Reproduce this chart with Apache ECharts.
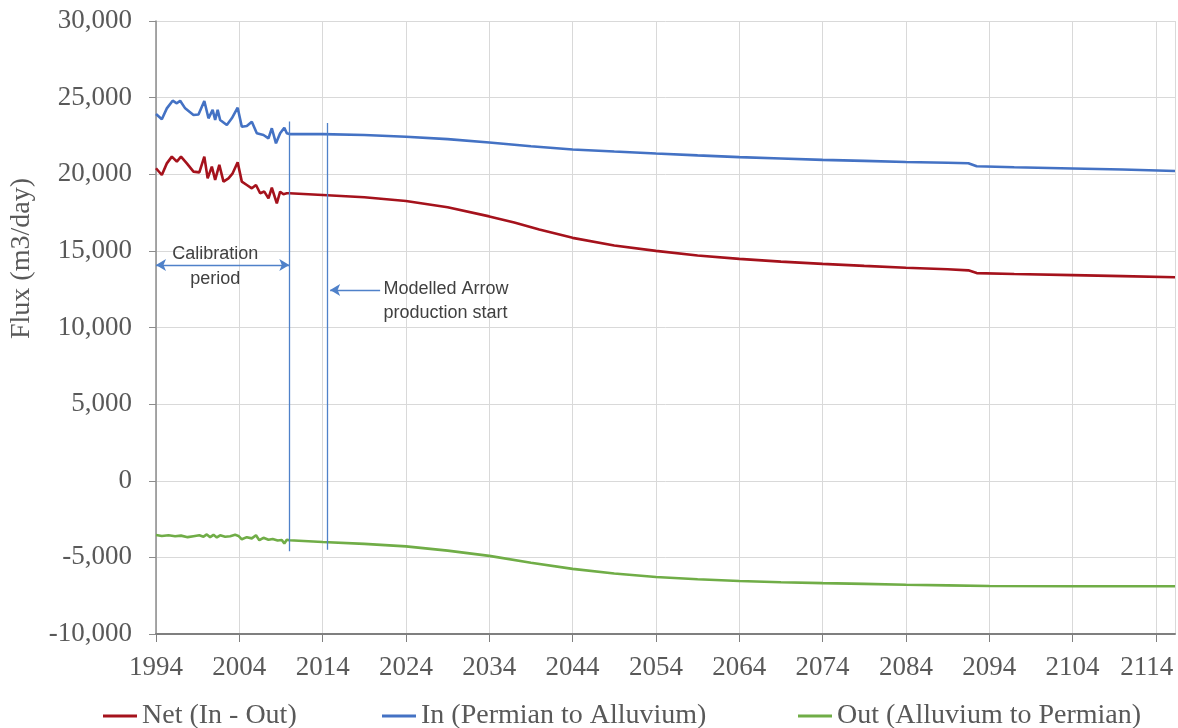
<!DOCTYPE html>
<html>
<head>
<meta charset="utf-8">
<script src="https://cdn.jsdelivr.net/npm/echarts@6/dist/echarts.min.js"></script>
<style>html,body{margin:0;padding:0;background:#fff}#c{width:1178px;height:728px}</style>
</head>
<body>
<div id="c"></div>
<script>
// ---- data ----
const netYears = [1994.0,1994.7,1995.3,1995.9,1996.5,1997.0,1997.7,1998.5,1999.2,1999.8,2000.2,2000.7,2001.1,2001.6,2002.1,2002.7,2003.2,2003.8,2004.3,2004.9,2005.5,2006.0,2006.5,2007.0,2007.5,2007.9,2008.5,2008.9,2009.3,2009.7,2010.0,2014,2019,2024,2029,2034,2037,2040,2044,2049,2054,2059,2064,2069,2074,2079,2084,2089,2091.5,2092.5,2097,2104,2110,2116.3];
const netValues = [20390,19950,20710,21150,20820,21150,20710,20170,20120,21150,19730,20500,19630,20610,19520,19730,20060,20780,19520,19300,19080,19300,18760,18870,18430,19120,18100,18860,18700,18760,18760,18650,18500,18250,17850,17250,16850,16400,15850,15350,15000,14700,14480,14300,14150,14020,13900,13800,13730,13550,13490,13420,13350,13280];

const inYears = [1994.0,1994.7,1995.3,1996.0,1996.5,1996.9,1997.5,1998.5,1999.1,1999.8,2000.3,2000.8,2001.1,2001.4,2001.7,2002.5,2003.1,2003.8,2004.3,2004.9,2005.5,2006.1,2006.9,2007.5,2007.9,2008.4,2008.9,2009.4,2009.7,2010.0,2014,2019,2024,2029,2034,2039,2044,2049,2054,2059,2064,2069,2074,2079,2084,2089,2091.5,2092.5,2097,2104,2110,2116.3];
const inValues = [23930,23590,24300,24800,24630,24800,24300,23870,23900,24780,23650,24200,23540,24200,23540,23210,23650,24340,23100,23150,23430,22670,22560,22340,23000,22020,22670,23040,22670,22620,22620,22560,22450,22290,22070,21830,21620,21480,21350,21230,21120,21030,20940,20870,20800,20750,20720,20520,20460,20380,20310,20210];

const outYears = [1994.0,1994.7,1995.5,1996.3,1997.0,1997.8,1998.5,1999.2,1999.7,2000.1,2000.5,2000.9,2001.3,2001.7,2002.3,2002.9,2003.5,2003.9,2004.3,2004.9,2005.5,2006.0,2006.4,2006.9,2007.5,2008.0,2008.6,2009.1,2009.4,2009.7,2010.0,2014,2019,2024,2029,2034,2039,2044,2049,2054,2059,2064,2069,2074,2079,2084,2089,2094,2104,2116.3];
const outValues = [-3540,-3600,-3560,-3620,-3580,-3680,-3620,-3560,-3650,-3500,-3680,-3530,-3700,-3560,-3650,-3620,-3530,-3600,-3820,-3680,-3760,-3560,-3880,-3720,-3850,-3800,-3900,-3870,-4100,-3850,-3880,-4000,-4120,-4280,-4560,-4900,-5350,-5750,-6050,-6280,-6430,-6540,-6620,-6680,-6730,-6790,-6830,-6870,-6880,-6880];

const seriesNames = ['Net (In - Out)', 'In (Permian to Alluvium)', 'Out (Alluvium to Permian)'];
const xTickStart = 1994, xTickStep = 10, xEnd = 2116.3;
const yMin = -10000, yMax = 30000, yStep = 5000;

// annotation anchors (data coordinates)
const calibrationEnd = 2010.0, productionStart = 2014.5;
const annoLineTop = 23450, annoLineBottom = -4600;
const calibArrowY = 14080, prodArrowY = 12450, prodArrowFrom = 2020.9;
const calibTextPos = [2001.1, 13950], prodTextPos = [2021.3, 11700];

// ---- chart ----
const zip = (xs, ys) => xs.map((x, i) => [x, ys[i]]);
const serif = '"Liberation Serif", "DejaVu Serif", serif';
const sans = '"Liberation Sans", Arial, sans-serif';
const annoColor = '#4f81c9';
const lastTick = xTickStart + Math.floor((xEnd - xTickStart) / xTickStep) * xTickStep;

const chart = echarts.init(document.getElementById('c'), null, {renderer: 'canvas'});
const legendBase = {
  top: 697, icon: 'rect', itemWidth: 34, itemHeight: 3,
  textStyle: {fontFamily: serif, fontSize: 28, color: '#595959'}
};
chart.setOption({
  animation: false,
  backgroundColor: '#ffffff',
  grid: {left: 156, right: 3, top: 21, bottom: 94, containLabel: false, outerBoundsMode: 'none'},
  legend: [
    Object.assign({left: 98, data: [seriesNames[0]]}, legendBase),
    Object.assign({left: 377, data: [seriesNames[1]]}, legendBase),
    Object.assign({left: 793, data: [seriesNames[2]]}, legendBase)
  ],
  xAxis: {
    type: 'value', min: xTickStart, max: xEnd, interval: xTickStep,
    axisLine: {show: true, onZero: false, lineStyle: {color: '#7f7f7f', width: 2}},
    axisTick: {show: true, length: 8, lineStyle: {color: '#7f7f7f'}},
    axisLabel: {
      fontFamily: serif, fontSize: 27, color: '#595959', margin: 20,
      showMaxLabel: false,
      formatter: v => {
        if (Math.abs((v - xTickStart) % xTickStep) > 1e-6) return '';
        const s = String(Math.round(v));
        return Math.abs(v - lastTick) < 1e-6 ? '{last|' + s + '}' : s;
      },
      rich: {last: {fontFamily: serif, fontSize: 27, color: '#595959', padding: [0, 18, 0, 0]}}
    },
    splitLine: {show: true, lineStyle: {color: '#d9d9d9', width: 1}}
  },
  yAxis: {
    type: 'value', min: yMin, max: yMax, interval: yStep,
    name: 'Flux (m3/day)', nameLocation: 'middle', nameGap: 120,
    nameTextStyle: {fontFamily: serif, fontSize: 28, color: '#595959', padding: [0, 0, 0, 138]},
    axisLine: {show: true, lineStyle: {color: '#8c8c8c', width: 1.5}},
    axisTick: {show: true, length: 7, lineStyle: {color: '#8c8c8c'}},
    axisLabel: {
      fontFamily: serif, fontSize: 27, color: '#595959', margin: 24,
      formatter: v => v.toLocaleString('en-US')
    },
    splitLine: {show: true, lineStyle: {color: '#d9d9d9', width: 1}}
  },
  series: [
    {
      name: seriesNames[0], type: 'line', data: zip(netYears, netValues),
      showSymbol: false, symbol: 'none', color: '#a5121c',
      lineStyle: {width: 2.6, color: '#a5121c'}, z: 3
    },
    {
      name: seriesNames[1], type: 'line', data: zip(inYears, inValues),
      showSymbol: false, symbol: 'none', color: '#4472c4',
      lineStyle: {width: 2.6, color: '#4472c4'}, z: 3,
      markLine: {
        silent: true, symbol: ['none', 'none'], label: {show: false},
        lineStyle: {color: annoColor, width: 1.3, type: 'solid'},
        data: [
          [{coord: [calibrationEnd, annoLineTop]}, {coord: [calibrationEnd, annoLineBottom]}],
          [{coord: [productionStart, annoLineTop - 100]}, {coord: [productionStart, annoLineBottom + 100]}],
          [{coord: [xTickStart, calibArrowY], symbol: 'arrow', symbolSize: [9, 10]},
           {coord: [calibrationEnd, calibArrowY], symbol: 'arrow', symbolSize: [9, 10]}],
          [{coord: [prodArrowFrom, prodArrowY], symbol: 'none'},
           {coord: [productionStart + 0.4, prodArrowY], symbol: 'arrow', symbolSize: [9, 10]}]
        ]
      },
      markPoint: {
        silent: true, symbol: 'circle', symbolSize: 0,
        data: [
          {name: 'Calibration\nperiod', coord: calibTextPos,
           label: {show: true, position: 'inside', formatter: '{b}', fontFamily: sans, fontSize: 18,
                   color: '#404040', lineHeight: 25, align: 'center'}},
          {name: 'Modelled Arrow\nproduction start', coord: prodTextPos,
           label: {show: true, position: 'right', distance: 0, formatter: '{b}', fontFamily: sans, fontSize: 18,
                   color: '#404040', lineHeight: 24, align: 'left'}}
        ]
      }
    },
    {
      name: seriesNames[2], type: 'line', data: zip(outYears, outValues),
      showSymbol: false, symbol: 'none', color: '#70ad47',
      lineStyle: {width: 2.6, color: '#70ad47'}, z: 3
    }
  ]
});
</script>
</body>
</html>
